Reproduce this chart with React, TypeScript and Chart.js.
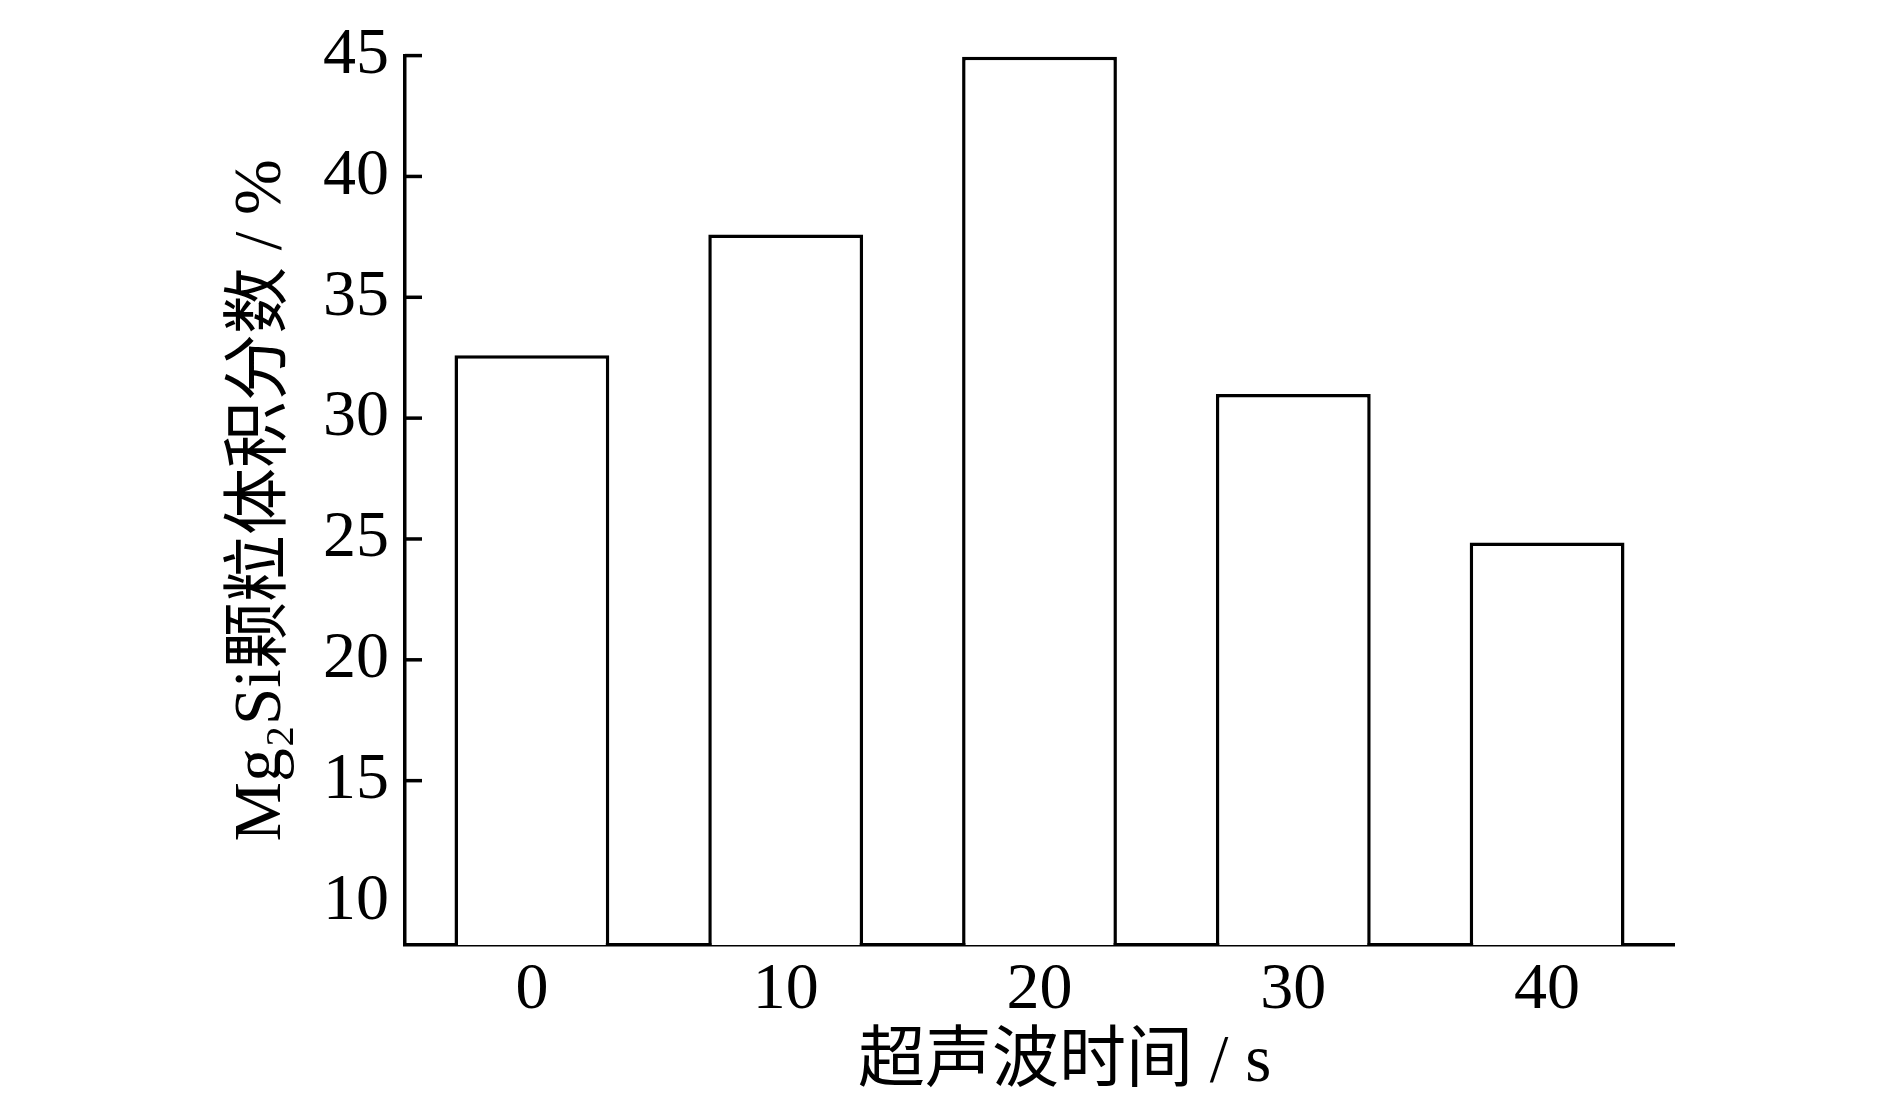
import React, { useEffect, useRef } from "react";
import { Chart, registerables } from "chart.js";

Chart.register(...registerables);

const categories = ["0", "10", "20", "30", "40"];
const volumeFraction = [32.6, 37.6, 44.95, 31.0, 24.85];
const yTickValues = [10, 15, 20, 25, 30, 35, 40, 45];
const yTickMarkValues = [15, 20, 25, 30, 35, 40, 45];
const yMin = 8.2;
const yMax = 45;
const xTitle = "\u00A0\u00A0\u00A0超声波时间 / s";
const yTitle = "Mg₂Si颗粒体积分数 / %";

const SERIF = "'Liberation Serif', 'Times New Roman', 'Noto Sans CJK SC', serif";

const innerTicks = {
  id: "innerTicks",
  afterDraw(chart: any) {
    const { ctx, chartArea } = chart;
    const y = chart.scales.y;
    ctx.save();
    ctx.strokeStyle = "#000";
    ctx.lineWidth = 3.5;
    for (const v of yTickMarkValues) {
      const py = y.getPixelForValue(v);
      ctx.beginPath();
      ctx.moveTo(chartArea.left, py);
      ctx.lineTo(chartArea.left + 17, py);
      ctx.stroke();
    }
    ctx.restore();
  },
};

export default function App() {
  const ref = useRef<HTMLCanvasElement | null>(null);
  useEffect(() => {
    if (!ref.current) return;
    const chart = new Chart(ref.current, {
      type: "bar",
      data: {
        labels: categories,
        datasets: [
          {
            data: volumeFraction,
            backgroundColor: "#fff",
            borderColor: "#000",
            borderWidth: 3.5,
            borderSkipped: ((c: any) => (c.dataIndex >= 3 ? false : "start")) as any,
            barPercentage: 0.61,
            categoryPercentage: 1,
          },
        ],
      },
      options: {
        responsive: false,
        animation: false,
        layout: { padding: { left: 222, right: 216, top: 51, bottom: 0 } },
        plugins: { legend: { display: false }, tooltip: { enabled: false } },
        scales: {
          x: {
            type: "category",
            offset: true,
            z: 1,
            grid: { display: false, drawTicks: false },
            border: { display: true, color: "#000", width: 3.5 },
            ticks: { color: "#000", padding: 6, font: { family: SERIF, size: 66 } },
            title: {
              display: true,
              text: xTitle,
              color: "#000",
              font: { family: SERIF, size: 67 },
              padding: { top: 0, bottom: 6 },
            },
            afterFit: (s: any) => {
              s.height = 165;
            },
          },
          y: {
            type: "linear",
            min: yMin,
            max: yMax,
            z: 1,
            grid: { display: false, drawTicks: false },
            border: { display: true, color: "#000", width: 3.5 },
            ticks: { color: "#000", padding: 16, font: { family: SERIF, size: 66 } },
            afterBuildTicks: (s: any) => {
              s.ticks = yTickValues.map((v) => ({ value: v }));
            },
            title: {
              display: true,
              text: yTitle,
              color: "#000",
              font: { family: SERIF, size: 67 },
              padding: { top: 0, bottom: 0 },
            },
            afterFit: (s: any) => {
              s.width = 183;
            },
          },
        },
      },
      plugins: [innerTicks],
    });
    return () => chart.destroy();
  }, []);
  return (
    <div style={{ position: "fixed", left: 0, top: 0, width: 1890, height: 1110, background: "#fff" }}>
      <canvas ref={ref} width={1890} height={1110} style={{ width: 1890, height: 1110 }} />
    </div>
  );
}
